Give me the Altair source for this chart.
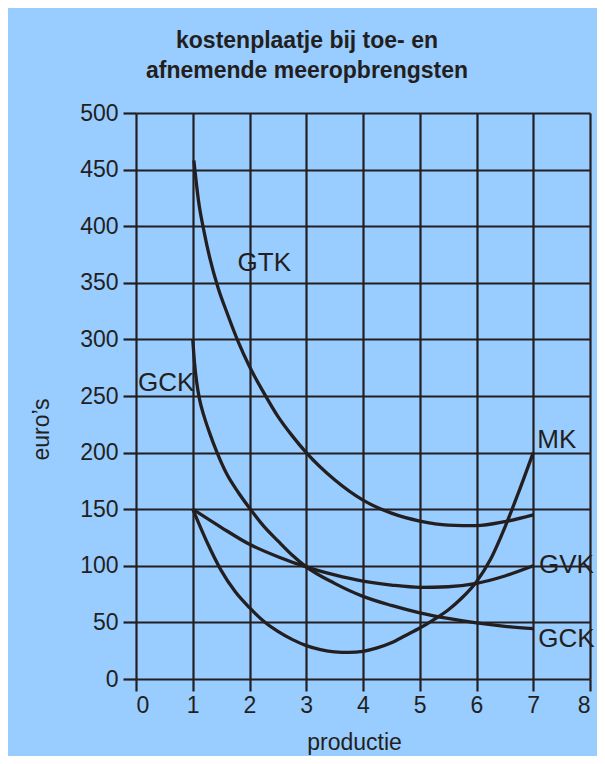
import altair as alt
import pandas as pd

# --- data ---
gtk_q = [1.02, 1.1, 1.2, 1.3, 1.45, 1.6, 1.8, 2.0, 2.25, 2.5, 2.75, 3.0, 3.5, 4.0, 4.5, 5.0, 5.5, 6.0, 6.5, 7.0]
gtk_v = [458, 423, 395, 372, 345, 324, 298, 276, 253, 232, 215, 200, 176, 158, 146.5, 139.5, 136, 135.5, 139, 145]

gck_q = [1.0, 1.03, 1.07, 1.12, 1.2, 1.3, 1.42, 1.6, 1.8, 2.0, 2.25, 2.5, 2.75, 3.0, 3.5, 4.0, 4.5, 5.0, 5.5, 6.0, 6.5, 7.0]
gck_v = [300, 280, 262, 247, 232, 217, 201, 181, 165, 151, 135, 122, 109.5, 99, 84.5, 73, 65, 58.5, 53.5, 49.5, 46.5, 44.5]

gvk_q = [1.0, 1.5, 2.0, 2.5, 3.0, 3.5, 4.0, 4.5, 5.0, 5.5, 6.0, 6.5, 7.0]
gvk_v = [150, 134, 119, 108, 99, 92, 86.5, 83, 81, 81.5, 84.5, 91, 100]

mk_q = [1.0, 1.25, 1.5, 1.75, 2.0, 2.25, 2.5, 2.75, 3.0, 3.25, 3.5, 3.75, 4.0, 4.25, 4.5, 4.75, 5.0, 5.25, 5.5, 5.75, 6.0, 6.25, 6.5, 6.75, 7.0]
mk_v = [150, 121, 96, 77, 63, 51, 42, 35, 29.5, 26, 24, 23.5, 24.5, 27.5, 32, 38.5, 45, 52.5, 61, 72, 86, 106, 134, 166, 200]

label_text = ["GTK", "GCK", "MK", "GVK", "GCK"]
label_q = [1.79, 0.035, 7.07, 7.10, 7.09]
label_v = [360.7, 254.7, 203.8, 93.4, 28.5]

x_ticks = [0, 1, 2, 3, 4, 5, 6, 7, 8]
y_ticks = [0, 50, 100, 150, 200, 250, 300, 350, 400, 450, 500]

rows = []
for name, qs, vs in [("GTK", gtk_q, gtk_v), ("GCK", gck_q, gck_v),
                     ("GVK", gvk_q, gvk_v), ("MK", mk_q, mk_v)]:
    for q, v in zip(qs, vs):
        rows.append({"serie": name, "q": q, "v": v})
curves = pd.DataFrame(rows)
labels = pd.DataFrame({"t": label_text, "q": label_q, "v": label_v})

INK = "#231f20"
FONT = "Liberation Sans"

xscale = alt.Scale(domain=[0, 8], nice=False, zero=False)
yscale = alt.Scale(domain=[0, 500], nice=False, zero=False)

xaxis = alt.Axis(values=x_ticks, format="d", grid=True, gridColor=INK, gridWidth=2.2, gridOpacity=1,
                 domain=False, tickColor=INK, tickWidth=2.2, tickSize=12,
                 labelFont=FONT, labelFontSize=23, labelColor=INK, labelPadding=3,
                 title="productie", titleFont=FONT, titleFontSize=23, titleFontWeight="normal",
                 titleColor=INK, titleX=218, titleY=70, titleBaseline="alphabetic",
                 titleAnchor="start", titleAlign="center")
yaxis = alt.Axis(values=y_ticks, format="d", grid=True, gridColor=INK, gridWidth=2.2, gridOpacity=1,
                 domain=False, tickColor=INK, tickWidth=2.2, tickSize=13,
                 labelFont=FONT, labelFontSize=23, labelColor=INK, labelPadding=5,
                 title="euro’s", titleFont=FONT, titleFontSize=23, titleFontWeight="normal",
                 titleColor=INK, titleX=-88, titleY=316, titleAngle=-90,
                 titleBaseline="alphabetic", titleAlign="center", titleAnchor="start")

lines = alt.Chart(curves).mark_line(interpolate="monotone", color=INK, strokeWidth=3.3,
                                    clip=False).encode(
    x=alt.X("q:Q", scale=xscale, axis=xaxis),
    y=alt.Y("v:Q", scale=yscale, axis=yaxis),
    detail="serie:N",
    order="q:Q",
)

texts = alt.Chart(labels).mark_text(align="left", baseline="alphabetic", font=FONT,
                                    fontSize=26, color=INK).encode(
    x=alt.X("q:Q", scale=xscale),
    y=alt.Y("v:Q", scale=yscale),
    text="t:N",
)

chart = alt.layer(lines, texts).properties(
    width=454, height=566,
    title=alt.TitleParams(["kostenplaatje bij toe- en", "afnemende meeropbrengsten"],
                          font=FONT, fontSize=23, fontWeight="bold", color=INK,
                          anchor="middle", dx=-56, offset=19, lineHeight=30),
    background="#99ccff",
    padding={"left": 128, "top": 105, "right": 7, "bottom": 77},
    autosize=alt.AutoSizeParams(type="none"),
).configure_view(stroke=None)

chart.save("out.html", embed_options={"renderer": "svg", "actions": False})
